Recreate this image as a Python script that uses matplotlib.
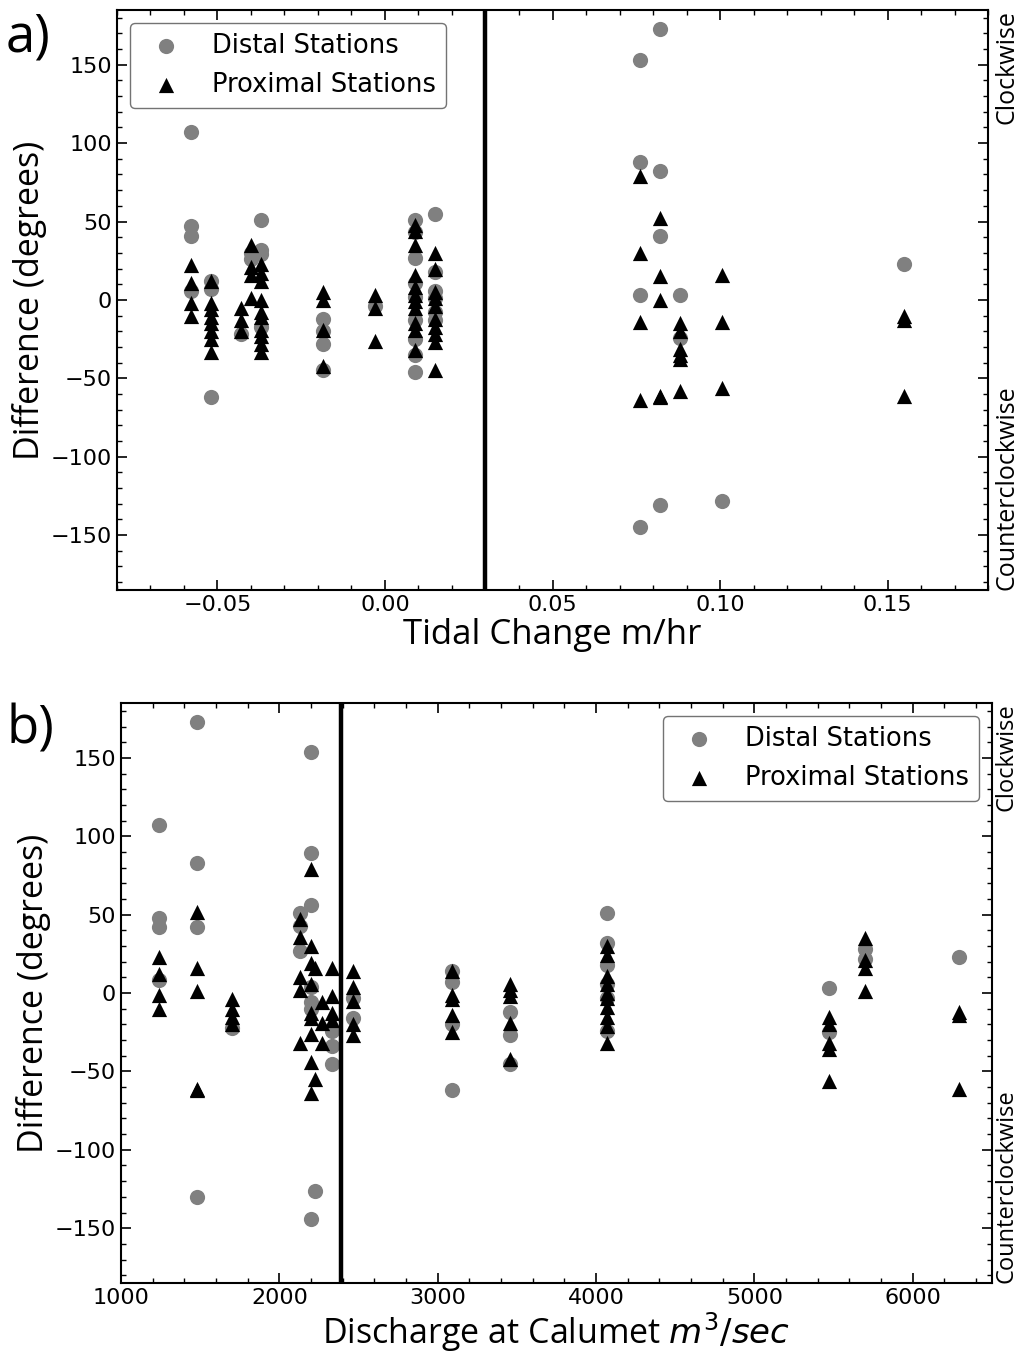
import matplotlib
matplotlib.use("Agg")
import matplotlib.pyplot as plt
from matplotlib.ticker import MultipleLocator

# panel a: tidal change (m/hr), one column per event
tidal_cols = [-0.058, -0.052, -0.043, -0.040, -0.037, -0.0185, -0.003, 0.009, 0.015,
              0.076, 0.082, 0.088, 0.1005, 0.155]
tidal_distal = [[107, 47, 41, 6], [12, 7, -62], [-22], [30, 26], [51, 32, 29, -17],
                [-12, -20, -28, -45], [-4], [51, 43, 27, 11, 2, -13, -25, -35, -46],
                [55, 18, 6, 1, -8, -13], [153, 88, 3, -145], [173, 82, 41, -131],
                [3, -24], [-128], [23]]
tidal_proximal = [[22, 11, -2, -10], [12, -2, -6, -11, -15, -20, -25, -33], [-5, -13, -20],
                  [35, 21, 16, 1], [23, 17, 12, 0, -8, -11, -19, -23, -28, -33],
                  [5, 0, -19, -42], [3, -5, -26],
                  [48, 44, 35, 16, 8, 3, -1, -5, -15, -19, -32],
                  [30, 20, 5, 1, -4, -12, -17, -22, -27, -45],
                  [79, 30, -14, -64], [52, 15, 0, -61, -62],
                  [-15, -20, -31, -35, -38, -58], [16, -14, -56], [-10, -13, -61]]

# panel b: discharge at Calumet (m3/sec)
q_cols = [1240, 1478, 1699, 2131, 2200, 2228, 2268, 2335, 2468, 3090, 3455, 4070,
          5470, 5695, 6290]
q_distal = [[107, 48, 42, 8], [173, 83, 42, -130], [-22], [51, 43, 27],
            [154, 89, 56, 4, -6, -10, -144], [-126], [], [-24, -34, -45], [-3, -16],
            [14, 7, -20, -62], [-12, -27, -45], [51, 32, 18, 6, -3, -24],
            [3, -25], [28, 22], [23]]
q_proximal = [[23, 12, -1, -10], [52, 16, 1, -61, -62], [-4, -10, -15, -20],
              [47, 36, 10, 2, -32], [79, 30, 19, 6, -13, -16, -26, -44, -64],
              [16, -55], [-6, -19, -32], [16, -2, -13, -17], [14, 4, -5, -20, -27],
              [14, -1, -4, -14, -25], [6, 2, -2, -19, -42],
              [30, 24, 11, 6, 0, -3, -9, -15, -21, -32],
              [-15, -20, -32, -36, -56], [35, 21, 16, 1], [-12, -14, -61]]

tidal_split = 0.03
q_split = 2390


def flatten(cols, values):
    xs, ys = [], []
    for c, vals in zip(cols, values):
        for v in vals:
            xs.append(c)
            ys.append(v)
    return xs, ys


label_font = "Open Sans"


def draw_panel(ax, cols, distal, proximal, split, legend_loc, side_x, side_size):
    dx, dy = flatten(cols, distal)
    px, py = flatten(cols, proximal)
    ax.scatter(dx, dy, s=120, c="gray", marker="o", linewidths=0, label="Distal Stations", zorder=2)
    ax.scatter(px, py, s=120, c="black", marker="^", linewidths=0, label="Proximal Stations", zorder=3)
    ax.axvline(split, color="black", lw=3.2, zorder=4)
    ax.set_ylim(-185, 185)
    ax.yaxis.set_major_locator(MultipleLocator(50))
    ax.yaxis.set_minor_locator(MultipleLocator(10))
    ax.tick_params(which="both", direction="in", top=True, right=True, labelsize=16)
    ax.tick_params(which="major", length=7, width=1.2)
    ax.tick_params(which="minor", length=3.5, width=1.0)
    for sp in ax.spines.values():
        sp.set_linewidth(1.5)
    ax.set_ylabel("Difference (degrees)", fontsize=24.5, family=label_font, labelpad=3)
    leg = ax.legend(loc=legend_loc, fontsize=18.5, framealpha=1)
    leg.get_frame().set_edgecolor("0.45")
    ax.text(side_x, 1.0, "Clockwise", transform=ax.transAxes, rotation=90,
            ha="left", va="top", fontsize=side_size, family=label_font)
    ax.text(side_x, 0.0, "Counterclockwise", transform=ax.transAxes, rotation=90,
            ha="left", va="bottom", fontsize=side_size, family=label_font)


fig = plt.figure(figsize=(10.19, 13.54), dpi=100)

ax1 = fig.add_axes([0.1148, 0.5643, 0.8548, 0.4284])
draw_panel(ax1, tidal_cols, tidal_distal, tidal_proximal, tidal_split, "upper left", 1.008, 18)
ax1.set_xlim(-0.08, 0.18)
ax1.xaxis.set_major_locator(MultipleLocator(0.05))
ax1.xaxis.set_minor_locator(MultipleLocator(0.01))
ax1.xaxis.set_major_formatter(lambda v, p: f"{v:.2f}".replace("-", "\u2212"))
ax1.set_xlabel("Tidal Change m/hr", fontsize=25, family=label_font, labelpad=2)

ax2 = fig.add_axes([0.1187, 0.0524, 0.8548, 0.4284])
draw_panel(ax2, q_cols, q_distal, q_proximal, q_split, "upper right", 1.003, 17)
ax2.set_xlim(1000, 6500)
ax2.xaxis.set_major_locator(MultipleLocator(1000))
ax2.xaxis.set_minor_locator(MultipleLocator(200))
ax2.set_xlabel("Discharge at Calumet $m^3/sec$", fontsize=24.5, family=label_font, labelpad=2)

fig.text(0.006, 0.992, "a)", fontsize=38, family=label_font, va="top", ha="left")
fig.text(0.006, 0.481, "b)", fontsize=38, family=label_font, va="top", ha="left")

fig.savefig("out.png", dpi=100)
